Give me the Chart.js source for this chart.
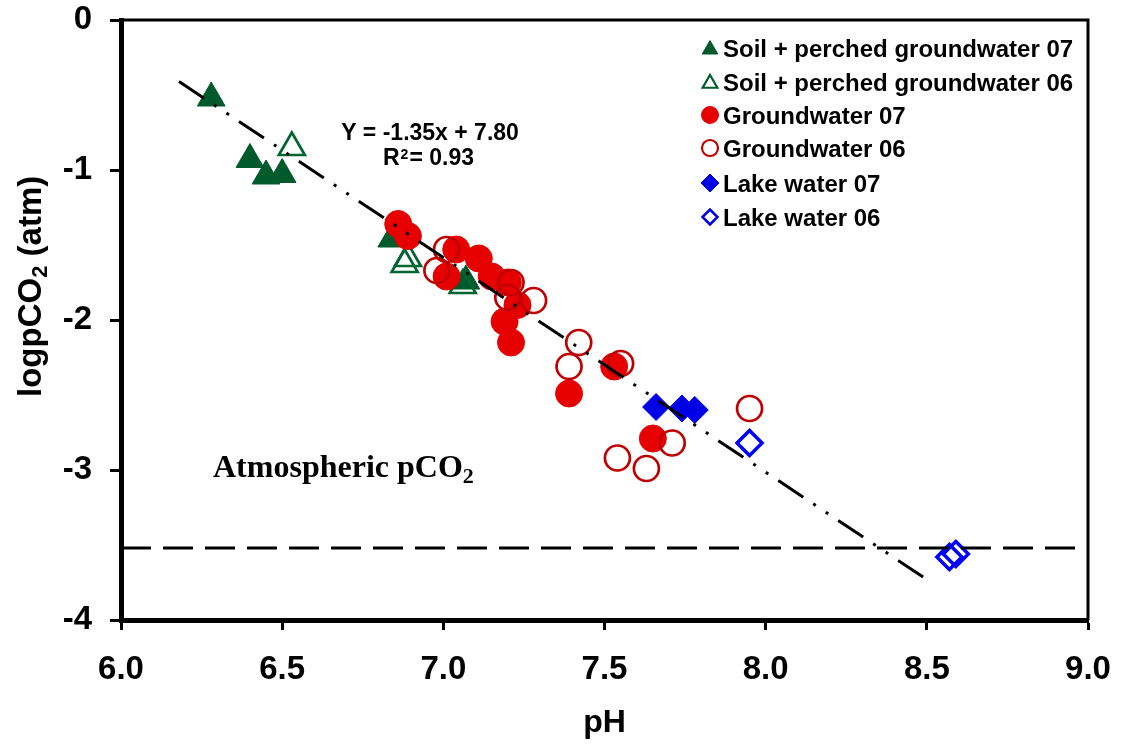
<!DOCTYPE html>
<html><head><meta charset="utf-8">
<script src="https://cdn.jsdelivr.net/npm/chart.js@4.4.1/dist/chart.umd.min.js"></script>
<style>html,body{margin:0;padding:0;background:#fff;overflow:hidden}#wrap{width:1129px;height:744px;position:relative}</style>
</head><body><div id="wrap"><canvas id="c" width="1129" height="744"></canvas></div>
<script>
// ---- data ----
const seriesNames = ['Soil + perched groundwater 07','Soil + perched groundwater 06','Groundwater 07','Groundwater 06','Lake water 07','Lake water 06'];
const soil07_pH = [6.28, 6.40, 6.45, 6.50, 6.84, 7.07];
const soil07_logpCO2 = [-0.52, -0.93, -1.04, -1.03, -1.46, -1.74];
const soil06_pH = [6.53, 6.88, 6.89, 7.06];
const soil06_logpCO2 = [-0.85, -1.63, -1.59, -1.77];
const gw07_pH = [6.86, 6.89, 7.04, 7.01, 7.11, 7.15, 7.20, 7.23, 7.19, 7.21, 7.39, 7.53, 7.65];
const gw07_logpCO2 = [-1.36, -1.44, -1.53, -1.71, -1.59, -1.71, -1.75, -1.90, -2.01, -2.15, -2.49, -2.31, -2.79];
const gw06_pH = [7.01, 6.98, 7.21, 7.20, 7.28, 7.42, 7.39, 7.55, 7.95, 7.71, 7.54, 7.63];
const gw06_logpCO2 = [-1.53, -1.67, -1.75, -1.85, -1.87, -2.15, -2.31, -2.29, -2.59, -2.82, -2.92, -2.99];
const lake07_pH = [7.66, 7.74, 7.78];
const lake07_logpCO2 = [-2.58, -2.59, -2.60];
const lake06_pH = [7.95, 8.57, 8.59];
const lake06_logpCO2 = [-2.82, -3.58, -3.56];
const fitLine_pH = [6.18, 8.50];
const fitLine_logpCO2 = [-0.41, -3.73];
const atmLine_pH = [6.0, 9.0];
const atmLine_logpCO2 = [-3.52, -3.52];
const xTickValues = [6.0, 6.5, 7.0, 7.5, 8.0, 8.5, 9.0];
const yTickValues = [-4, -3, -2, -1, 0];
const equationText = 'Y = -1.35x + 7.80';
const r2Text = '= 0.93';
const atmText = 'Atmospheric pCO';

const GREEN = '#005A2C', RED = '#E60000', DARKRED = '#C00000', BLUE = '#0000E6';
const SANS = '"Liberation Sans", Arial, Helvetica, sans-serif';
const SERIF = '"Liberation Serif", "Times New Roman", serif';

function pts(xs, ys){ return xs.map((x,i)=>({x:x, y:ys[i]})); }

const legendItems = [
  {text: seriesNames[0], style:'triangle', fill:GREEN, stroke:GREEN, r:9, bw:1, dy:1.5},
  {text: seriesNames[1], style:'triangle', fill:null, stroke:GREEN, r:8.5, bw:2.2, dy:1.5},
  {text: seriesNames[2], style:'circle', fill:RED, stroke:RED, r:8.5, bw:1, dy:0},
  {text: seriesNames[3], style:'circle', fill:null, stroke:DARKRED, r:8, bw:2.2, dy:0},
  {text: seriesNames[4], style:'rectRot', fill:BLUE, stroke:BLUE, r:9, bw:1, dy:0},
  {text: seriesNames[5], style:'rectRot', fill:null, stroke:BLUE, r:7.5, bw:2.5, dy:0}
];

function shape(ctx, style, x, y, r){
  ctx.beginPath();
  if (style === 'triangle'){
    ctx.moveTo(x, y - r);
    ctx.lineTo(x + r*Math.sin(Math.PI*2/3), y - r*Math.cos(Math.PI*2/3));
    ctx.lineTo(x - r*Math.sin(Math.PI*2/3), y - r*Math.cos(Math.PI*2/3));
    ctx.closePath();
  } else if (style === 'rectRot'){
    ctx.moveTo(x - r, y); ctx.lineTo(x, y - r); ctx.lineTo(x + r, y); ctx.lineTo(x, y + r); ctx.closePath();
  } else {
    ctx.arc(x, y, r, 0, Math.PI*2);
  }
}

const decor = {
  id: 'decor',
  afterDraw(chart){
    const ctx = chart.ctx, a = chart.chartArea;
    ctx.save();
    // frame (top & right)
    ctx.strokeStyle = '#000'; ctx.lineWidth = 3;
    ctx.beginPath(); ctx.moveTo(a.left, a.top); ctx.lineTo(a.right, a.top); ctx.lineTo(a.right, a.bottom); ctx.stroke();
    // legend
    const rowY = [48, 82, 115, 148, 183, 217];
    ctx.textAlign = 'left'; ctx.textBaseline = 'alphabetic';
    ctx.font = 'bold 24px ' + SANS; ctx.fillStyle = '#000';
    legendItems.forEach((it, i) => {
      shape(ctx, it.style, 710, rowY[i] + it.dy, it.r);
      if (it.fill){ ctx.fillStyle = it.fill; ctx.fill(); }
      ctx.strokeStyle = it.stroke; ctx.lineWidth = it.bw; ctx.stroke();
      ctx.fillStyle = '#000';
      ctx.fillText(it.text, 723, rowY[i] + 9);
    });
    // equation
    ctx.font = 'bold 23px ' + SANS; ctx.textAlign = 'center';
    ctx.fillText(equationText, 430, 140);
    ctx.textAlign = 'left';
    ctx.fillText('R', 383, 165);
    let w = ctx.measureText('R').width;
    ctx.font = 'bold 14px ' + SANS; ctx.fillText('2', 383 + w + 1, 159);
    let w2 = ctx.measureText('2').width;
    ctx.font = 'bold 23px ' + SANS; ctx.fillText(r2Text, 383 + w + w2 + 2, 165);
    // atmospheric label
    ctx.font = 'bold 32px ' + SERIF;
    ctx.fillText(atmText, 213, 477);
    w = ctx.measureText(atmText).width;
    ctx.font = 'bold 22px ' + SERIF; ctx.fillText('2', 213 + w, 483);
    // x title
    ctx.font = 'bold 32px ' + SANS; ctx.textAlign = 'center';
    ctx.fillText('pH', (a.left + a.right)/2, 732);
    // y title
    ctx.save();
    ctx.translate(41, 397); ctx.rotate(-Math.PI/2);
    ctx.textAlign = 'left';
    ctx.font = 'bold 33px ' + SANS; ctx.fillText('logpCO', 0, 0);
    w = ctx.measureText('logpCO').width;
    ctx.font = 'bold 22px ' + SANS; ctx.fillText('2', w, 6);
    w2 = ctx.measureText('2').width;
    ctx.font = 'bold 33px ' + SANS; ctx.fillText(' (atm)', w + w2, 0);
    ctx.restore();
    ctx.restore();
  }
};

const tickFont = {family: SANS, size: 33, weight: 'bold'};

new Chart(document.getElementById('c'), {
  type: 'scatter',
  data: {
    datasets: [
      {label:'fit', data: pts(fitLine_pH, fitLine_logpCO2), showLine:true, borderColor:'#000', borderWidth:3, borderDash:[30,12,3,12,3,12], borderCapStyle:'butt', pointRadius:0, fill:false, order:0},
      {label:'atm', data: pts(atmLine_pH, atmLine_logpCO2), showLine:true, borderColor:'#000', borderWidth:3, borderDash:[30,12], borderCapStyle:'butt', pointRadius:0, fill:false, order:0},
      {label: seriesNames[5], data: pts(lake06_pH, lake06_logpCO2), pointStyle:'rectRot', pointRadius:12.5, backgroundColor:'rgba(0,0,0,0)', borderColor:'#0000FF', borderWidth:3.5, order:1},
      {label: seriesNames[4], data: pts(lake07_pH, lake07_logpCO2), pointStyle:'rectRot', pointRadius:13.5, backgroundColor:BLUE, borderColor:BLUE, borderWidth:1, order:2},
      {label: seriesNames[3], data: pts(gw06_pH, gw06_logpCO2), pointStyle:'circle', pointRadius:12.5, backgroundColor:'rgba(0,0,0,0)', borderColor:DARKRED, borderWidth:2.7, order:3},
      {label: seriesNames[2], data: pts(gw07_pH, gw07_logpCO2), pointStyle:'circle', pointRadius:13.5, backgroundColor:RED, borderColor:RED, borderWidth:1, order:4},
      {label: seriesNames[1], data: pts(soil06_pH, soil06_logpCO2), pointStyle:'triangle', pointRadius:15, backgroundColor:'rgba(0,0,0,0)', borderColor:'#006633', borderWidth:2.7, order:5},
      {label: seriesNames[0], data: pts(soil07_pH, soil07_logpCO2), pointStyle:'triangle', pointRadius:16, backgroundColor:GREEN, borderColor:GREEN, borderWidth:1, order:6}
    ]
  },
  options: {
    responsive:false, animation:false, devicePixelRatio:1,
    layout:{padding:{top:20, right:41, left:0, bottom:0}},
    plugins:{legend:{display:false}, tooltip:{enabled:false}},
    elements:{point:{hoverRadius:0}},
    scales:{
      x:{type:'linear', min:6, max:9,
        afterFit(s){ s.height = 124; s.paddingLeft = 0; s.paddingRight = 0; },
        afterBuildTicks(s){ s.ticks = xTickValues.map(v=>({value:v})); },
        ticks:{callback:v=>Number(v).toFixed(1), font:tickFont, color:'#000', padding:20, maxRotation:0, autoSkip:false},
        grid:{drawOnChartArea:false, drawTicks:true, tickLength:10, tickColor:'#000', tickWidth:3},
        border:{display:true, color:'#000', width:5}
      },
      y:{type:'linear', min:-4, max:0,
        afterFit(s){ s.width = 121; s.paddingTop = 0; s.paddingBottom = 0; },
        afterBuildTicks(s){ s.ticks = yTickValues.map(v=>({value:v})); },
        ticks:{callback:v=>String(v), font:tickFont, color:'#000', padding:18, autoSkip:false},
        grid:{drawOnChartArea:false, drawTicks:true, tickLength:11, tickColor:'#000', tickWidth:3},
        border:{display:true, color:'#000', width:5}
      }
    }
  },
  plugins:[decor]
});
</script>
</body></html>
